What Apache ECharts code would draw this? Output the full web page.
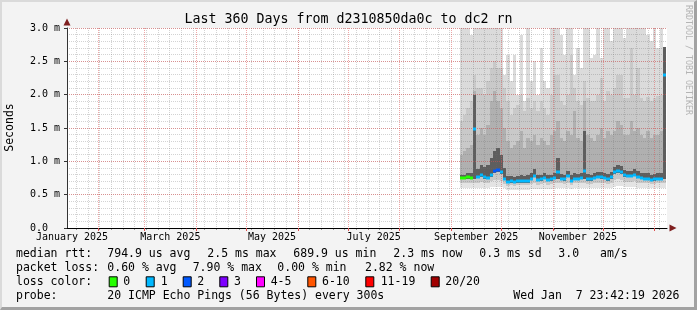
<!DOCTYPE html>
<html><head><meta charset="utf-8">
<script src="https://cdn.jsdelivr.net/npm/echarts@6/dist/echarts.min.js"></script>
<style>
html,body{margin:0;padding:0;background:#f3f3f3;}
#wrap{position:relative;width:697px;height:310px;overflow:hidden;}
#chart{position:absolute;left:0;top:0;width:697px;height:310px;}
#frame{position:absolute;left:0;top:0;width:697px;height:310px;box-sizing:border-box;border-top:2px solid #dadada;border-left:2px solid #dadada;border-right:3px solid #a2a2a2;border-bottom:3px solid #a2a2a2;pointer-events:none;}
</style></head><body>
<div id="wrap"><div id="chart"></div><div id="frame"></div></div>
<script>
// ================= DATA =================
const titleText = 'Last 360 Days from d2310850da0c to dc2 rn';
const yAxisTitle = 'Seconds';
const watermark = 'RRDTOOL / TOBI OETIKER';
// x axis: days since 2025-01-01
const axisStartDay = 12.5, axisEndDay = 372.5;
const monthLabelDays = [15.5, 74.5, 135.5, 196.5, 258, 319];
const monthLabels = ['January 2025', 'March 2025', 'May 2025', 'July 2025', 'September 2025', 'November 2025'];
const monthStartDays = [31, 59, 90, 120, 151, 181, 212, 243, 273, 304, 334, 365];
const firstSunday = 18;
// y axis (ms)
const yMin = 0, yMax = 3.0, yMajor = 0.5, yMinor = 0.1;

// 2-day columns (center day)
const colDays = [249,251,253,255,257,259,261,263,265,267,269,271,273,275,277,279,281,283,285,287,289,291,293,295,297,299,301,303,305,307,309,311,313,315,317,319,321,323,325,327,329,331,333,335,337,339,341,343,345,347,349,351,353,355,357,359,361,363,365,367,369,371];
// median rtt (ms)
const median = [0.75,0.75,0.76,0.75,1.49,0.77,0.80,0.76,0.75,0.80,0.86,0.87,0.84,0.74,0.69,0.70,0.69,0.70,0.70,0.70,0.70,0.74,0.78,0.72,0.73,0.75,0.72,0.73,0.75,0.84,0.74,0.73,0.78,0.71,0.74,0.74,0.75,0.85,0.73,0.73,0.75,0.77,0.76,0.75,0.73,0.76,0.84,0.85,0.84,0.79,0.78,0.78,0.80,0.77,0.75,0.74,0.74,0.72,0.73,0.74,0.74,2.30];
// lost pings per sample (colour class)
const lossCount = [0,0,0,0,1,1,1,1,1,1,2,2,1,1,1,1,1,1,1,1,1,1,1,1,1,1,1,1,1,1,1,1,1,1,1,1,1,1,1,1,1,1,1,1,1,1,1,1,1,1,1,1,1,1,1,1,1,1,1,1,1,1];
// smoke boundaries (ms), bottom to top
const smokeMin = [0.6,0.6,0.6,0.6,0.6,0.6,0.6,0.6,0.6,0.61,0.62,0.62,0.62,0.6,0.57,0.57,0.57,0.57,0.57,0.57,0.57,0.58,0.59,0.58,0.58,0.59,0.58,0.59,0.6,0.6,0.6,0.6,0.6,0.59,0.6,0.6,0.6,0.6,0.6,0.6,0.6,0.6,0.6,0.6,0.6,0.6,0.62,0.63,0.63,0.61,0.61,0.61,0.61,0.6,0.6,0.6,0.6,0.6,0.6,0.6,0.6,0.6];
const smokeLow = [0.67,0.67,0.68,0.67,0.68,0.68,0.69,0.68,0.67,0.70,0.72,0.72,0.71,0.66,0.63,0.64,0.63,0.64,0.64,0.64,0.64,0.66,0.67,0.65,0.66,0.67,0.65,0.66,0.67,0.68,0.67,0.66,0.68,0.65,0.67,0.67,0.67,0.68,0.66,0.66,0.67,0.68,0.68,0.67,0.66,0.68,0.72,0.73,0.72,0.69,0.69,0.69,0.70,0.68,0.67,0.67,0.67,0.66,0.66,0.67,0.67,0.68];
const smokeCoreLo = [0.73,0.73,0.74,0.73,0.73,0.75,0.77,0.74,0.73,0.77,0.83,0.84,0.81,0.72,0.67,0.68,0.67,0.68,0.68,0.68,0.68,0.72,0.76,0.70,0.71,0.73,0.70,0.71,0.73,0.74,0.72,0.71,0.76,0.69,0.72,0.72,0.73,0.74,0.71,0.71,0.73,0.75,0.74,0.73,0.71,0.74,0.81,0.82,0.81,0.77,0.76,0.76,0.78,0.75,0.73,0.72,0.72,0.70,0.71,0.72,0.72,0.74];
const smokeCoreHi = [0.80,0.80,0.82,0.82,2.00,0.88,0.95,0.92,0.95,1.05,1.15,1.20,1.10,0.90,0.78,0.78,0.77,0.78,0.80,0.78,0.79,0.82,0.88,0.80,0.80,0.82,0.80,0.80,0.82,1.05,0.81,0.80,0.86,0.79,0.82,0.81,0.82,1.45,0.81,0.80,0.82,0.84,0.84,0.83,0.81,0.84,0.92,0.94,0.93,0.87,0.86,0.86,0.88,0.85,0.83,0.82,0.82,0.80,0.81,0.82,0.82,2.72];
const smokeMid = [1.10,1.15,1.20,1.25,2.05,1.40,1.50,1.40,1.55,1.90,2.05,1.90,1.80,1.50,1.30,1.20,1.25,1.30,1.45,1.20,1.35,1.30,1.40,1.25,1.35,1.30,1.25,1.40,1.45,1.60,1.35,1.30,1.45,1.40,1.75,1.35,1.30,1.90,1.40,1.35,1.30,1.40,1.50,1.35,1.45,1.40,1.45,1.60,1.55,1.40,1.40,1.60,1.45,1.50,1.40,1.35,1.45,1.35,1.40,1.40,1.45,2.72];
const smokeHigh = [1.60,1.70,1.80,1.90,2.30,2.10,2.10,2.00,2.20,2.40,2.50,2.40,2.40,2.10,1.90,1.70,1.80,1.85,2.00,1.75,1.95,1.80,1.90,1.75,1.90,1.80,1.70,2.00,2.30,2.30,1.90,1.85,2.00,2.60,2.10,1.90,1.85,2.20,1.95,1.90,1.90,2.00,2.25,1.90,2.05,2.00,2.10,2.30,2.30,1.95,1.95,2.70,2.00,2.40,1.95,1.90,1.97,1.90,1.95,1.98,2.00,2.72];
const smokeMax = [3.0,3.0,3.0,2.9,3.0,3.0,3.0,3.0,3.0,3.0,3.0,3.0,3.0,2.3,2.6,2.2,2.6,2.0,2.9,1.9,3.0,2.2,2.5,2.0,2.7,2.2,2.1,3.0,3.0,3.0,2.9,2.6,3.0,3.0,2.3,2.7,2.4,3.0,3.0,2.55,2.6,3.0,2.55,3.0,3.0,2.8,3.0,3.0,3.0,2.85,3.0,3.0,3.0,3.0,3.0,3.0,2.9,2.8,3.0,2.7,3.0,2.72];

// legend texts
const rttRow = ['median rtt:', '794.9 us avg', '2.5 ms max', '689.9 us min', '2.3 ms now', '0.3 ms sd', '3.0', 'am/s'];
const lossRow = ['packet loss:', '0.60 % avg', '7.90 % max', '0.00 % min', '2.82 % now'];
const lossColorTitle = 'loss color:';
const lossClassLabels = ['0', '1', '2', '3', '4-5', '6-10', '11-19', '20/20'];
const probeRow = ['probe:', '20 ICMP Echo Pings (56 Bytes) every 300s'];
const stampText = 'Wed Jan  7 23:42:19 2026';

// ================= STYLE / LAYOUT =================
const lossColors = ['#26ff00', '#00b8ff', '#0059ff', '#7e00ff', '#ff00ff', '#ff5500', '#ff0000', '#a10000'];
const bandColors = ['#e4e4e4', '#c8c8c8', '#5e5e5e', '#b0b0b0', '#c9c9c9', '#dbdbdb'];
const MONO = '"DejaVu Sans Mono", monospace';
const rttX = [16, 107.3, 207.3, 293.3, 393.3, 479.3, 558.3, 600];
const lossX = [16, 107.3, 192.7, 277.3, 365];
const boxX = [108.7, 145.7, 182.7, 219.3, 256, 307.3, 365.3, 430.7];
const boxLabelX = [123.3, 160.7, 197.3, 234, 270.7, 322, 380.7, 445.3];
const rowY = [254.3, 268.3, 282.3, 296];

const chart = echarts.init(document.getElementById('chart'), null, {renderer: 'canvas'});

const cats = [];
for (let k = 0; k <= (axisEndDay - axisStartDay) * 2; k++) cats.push(String(axisStartDay + 0.5 * k));
const dayOf = (idx) => axisStartDay + 0.5 * idx;
const isMonthStart = (idx) => monthStartDays.indexOf(dayOf(idx)) >= 0;
const isSunday = (idx) => { const d = dayOf(idx); return Number.isInteger(d) && d >= firstSunday && (d - firstSunday) % 7 === 0; };
const isLabelDay = (idx) => monthLabelDays.indexOf(dayOf(idx)) >= 0;

const smokeData = colDays.map((d, i) => [d, smokeMin[i], smokeLow[i], smokeCoreLo[i], smokeCoreHi[i], smokeMid[i], smokeHigh[i], smokeMax[i]]);

// median drawn as one short horizontal bar per sample, coloured by loss class
const medianData = colDays.map((d, i) => [d, median[i], lossCount[i]]);

const texts = [];
function txt(s, x, y, opt) {
  texts.push(Object.assign({
    type: 'text', x: x, y: y, z: 20, silent: true,
    style: Object.assign({text: s, x: 0, y: 0, fill: '#000', font: '11.5px ' + MONO,
      align: 'left', verticalAlign: 'middle', textAlign: 'left', textVerticalAlign: 'middle'}, opt && opt.style || {})
  }, opt && opt.el || {}));
}
txt(titleText, 348.5, 19.3, {style: {font: '13.3px ' + MONO, align: 'center', textAlign: 'center'}});
txt(yAxisTitle, 10.5, 127.5, {style: {align: 'center', textAlign: 'center'}, el: {rotation: Math.PI / 2}});
txt(watermark, 688.5, 60, {style: {font: '8.3px ' + MONO, fill: '#b4b4b4', align: 'center', textAlign: 'center'}, el: {rotation: -Math.PI / 2}});
rttRow.forEach((s, i) => txt(s, rttX[i], rowY[0]));
lossRow.forEach((s, i) => txt(s, lossX[i], rowY[1]));
txt(lossColorTitle, 16, rowY[2]);
lossClassLabels.forEach((s, i) => {
  texts.push({type: 'rect', z: 20, silent: true, shape: {x: boxX[i] + 0.5, y: rowY[2] - 5.5, width: 8, height: 10},
    style: {fill: lossColors[i], stroke: '#000', lineWidth: 1}});
  txt(s, boxLabelX[i], rowY[2]);
});
txt(probeRow[0], 16, rowY[3]);
txt(probeRow[1], 107.3, rowY[3]);
txt(stampText, 679.5, rowY[3], {style: {align: 'right', textAlign: 'right'}});

const majorGrid = 'rgba(222,80,80,0.5)';
const minorGrid = 'rgba(110,110,110,0.3)';

chart.setOption({
  animation: false,
  backgroundColor: '#f3f3f3',
  grid: {left: 67, top: 28, width: 600, height: 200, show: true, backgroundColor: '#ffffff', borderWidth: 0},
  xAxis: [
    {type: 'value', min: axisStartDay, max: axisEndDay, show: false},
    {type: 'category', data: cats, boundaryGap: false, position: 'bottom', z: 4,
      axisLine: {show: true, lineStyle: {color: '#000', width: 1}},
      axisTick: {show: true, interval: isMonthStart, length: 3, lineStyle: {color: '#de5050'}},
      axisLabel: {show: true, interval: isLabelDay, hideOverlap: false, margin: 4, color: '#000', fontFamily: MONO, fontSize: 10,
        formatter: (v) => { const k = monthLabelDays.indexOf(parseFloat(v)); return k >= 0 ? monthLabels[k] : ''; }},
      splitLine: {show: true, interval: isMonthStart, lineStyle: {color: majorGrid, type: [1, 1], width: 1}}},
    {type: 'category', data: cats, boundaryGap: false, position: 'bottom', z: 3,
      axisLine: {show: true, symbol: ['none', 'triangle'], symbolSize: [7, 7], symbolOffset: [0, 6], lineStyle: {color: '#7f1f1f', width: 0}},
      axisTick: {show: true, interval: isSunday, length: 2, lineStyle: {color: '#999'}},
      axisLabel: {show: false},
      splitLine: {show: true, interval: isSunday, lineStyle: {color: minorGrid, type: [1, 1], width: 1}}}
  ],
  yAxis: [
    {type: 'value', min: yMin, max: yMax, interval: yMajor, position: 'left', z: 4,
      axisLine: {show: true, lineStyle: {color: '#333'}},
      axisTick: {show: true, length: 3, lineStyle: {color: '#333'}},
      axisLabel: {margin: 7, color: '#000', fontFamily: MONO, fontSize: 10,
        formatter: (v) => v === 0 ? '0.0  ' : v.toFixed(1) + ' m'},
      splitLine: {show: true, lineStyle: {color: majorGrid, type: [1, 1], width: 1}}},
    {type: 'value', min: yMin, max: yMax, interval: yMinor, position: 'left', z: 3,
      axisLine: {show: true, symbol: ['none', 'triangle'], symbolSize: [7, 7], symbolOffset: [0, 6], lineStyle: {color: '#7f1f1f', width: 0}},
      axisTick: {show: false}, axisLabel: {show: false},
      splitLine: {show: true, lineStyle: {color: minorGrid, type: [1, 1], width: 1}}}
  ],
  series: [
    {
      type: 'custom', xAxisIndex: 0, yAxisIndex: 0, z: 1, silent: true, clip: true,
      encode: {x: 0, y: [1, 2, 3, 4, 5, 6, 7]},
      data: smokeData,
      renderItem: function (params, api) {
        const d = api.value(0);
        const xl = Math.round(api.coord([d - 1, 0])[0]);
        const xr = Math.round(api.coord([d + 1, 0])[0]);
        const children = [];
        for (let k = 0; k < 6; k++) {
          const y0 = Math.round(api.coord([d, api.value(k + 1)])[1]);
          const y1 = Math.round(api.coord([d, api.value(k + 2)])[1]);
          if (y0 - y1 > 0) children.push({type: 'rect', shape: {x: xl, y: y1, width: xr - xl, height: y0 - y1}, style: {fill: bandColors[k]}});
        }
        return {type: 'group', children: children};
      }
    },
    {
      type: 'custom', xAxisIndex: 0, yAxisIndex: 0, z: 6, silent: true, clip: true,
      encode: {x: 0, y: 1},
      data: medianData,
      renderItem: function (params, api) {
        const d = api.value(0);
        const xl = Math.round(api.coord([d - 1, 0])[0]);
        const xr = Math.round(api.coord([d + 1, 0])[0]);
        const yc = Math.round(api.coord([d, api.value(1)])[1]);
        return {type: 'rect', shape: {x: xl, y: yc - 1.5, width: xr - xl, height: 3}, style: {fill: lossColors[api.value(2)]}};
      }
    }
  ],
  graphic: texts
});
</script>
</body></html>
